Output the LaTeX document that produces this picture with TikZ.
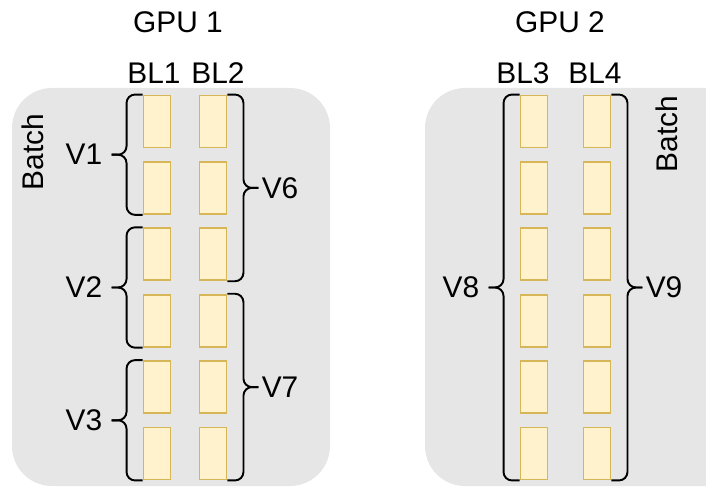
\documentclass[tikz,border=0pt]{standalone}
\usepackage{fontspec}
\setmainfont{Liberation Sans}
\usepackage{xcolor}
\usepackage{tikz}
\usetikzlibrary{calc}

\definecolor{panelgray}{HTML}{E6E6E6}
\definecolor{blockfill}{HTML}{FFF2CC}
\definecolor{blockedge}{HTML}{D6B656}

\begin{document}
\begin{tikzpicture}[
    x=0.02cm, y=-0.02cm,
    panel/.style={fill=panelgray, rounded corners=0.8cm},
    block/.style={draw=blockedge, fill=blockfill, line width=1.1pt, minimum width=0.54cm, minimum height=1.04cm, inner sep=0pt},
    label/.style={font=\fontsize{17}{20}\selectfont, inner sep=0pt},
    curly/.style={draw=black, line width=1.1pt, rounded corners=0.17cm}
]

% Page size (right panel runs off the edge)
\useasboundingbox (0,0) rectangle (706,489);
\clip (0,0) rectangle (706,489);

% GPU panels
\fill[panel] (12,88) rectangle (330,486);
\fill[panel] (425,88) rectangle (760,486);

% Titles
\node[label] (gpu1) at (178,22) {GPU 1};
\node[label] (gpu2) at (560,22) {GPU 2};

\node[label] (bl1) at (154,73) {BL1};
\node[label] (bl2) at (218,73) {BL2};
\node[label] (bl3) at (523,73) {BL3};
\node[label] (bl4) at (595,73) {BL4};

\node[label, rotate=90] (batch1) at (33,152) {Batch};
\node[label, rotate=90] (batch2) at (667,134) {Batch};

% Blocks (six per column)
\foreach \c/\x in {a/157, b/213, c/534, d/597}
    \foreach \r in {1,...,6}
        \node[block] (blk_\c\r) at (\x, {121.5+66.4*(\r-1)}) {};

% Braces opening to the left (V1, V2, V3, V8)
\foreach \t/\b/\v in {a1/a2/V1, a3/a4/V2, a5/a6/V3, c1/c6/V8} {
    \coordinate (tip_\v) at ($(blk_\t.north west)!0.5!(blk_\b.south west)+(-31,0)$);
    \draw[curly] (blk_\t.north west) -- ++(-16,0) |- (tip_\v);
    \draw[curly] (blk_\b.south west) -- ++(-16,0) |- (tip_\v);
    \node[label, anchor=east] (lab_\v) at ($(tip_\v)+(-9,0)$) {\v};
}

% Braces opening to the right (V6, V7, V9)
\foreach \t/\b/\v in {b1/b3/V6, b4/b6/V7, d1/d6/V9} {
    \coordinate (tip_\v) at ($(blk_\t.north east)!0.5!(blk_\b.south east)+(31,0)$);
    \draw[curly] (blk_\t.north east) -- ++(16,0) |- (tip_\v);
    \draw[curly] (blk_\b.south east) -- ++(16,0) |- (tip_\v);
    \node[label, anchor=west] (lab_\v) at ($(tip_\v)+(3,0)$) {\v};
}

\end{tikzpicture}
\end{document}
